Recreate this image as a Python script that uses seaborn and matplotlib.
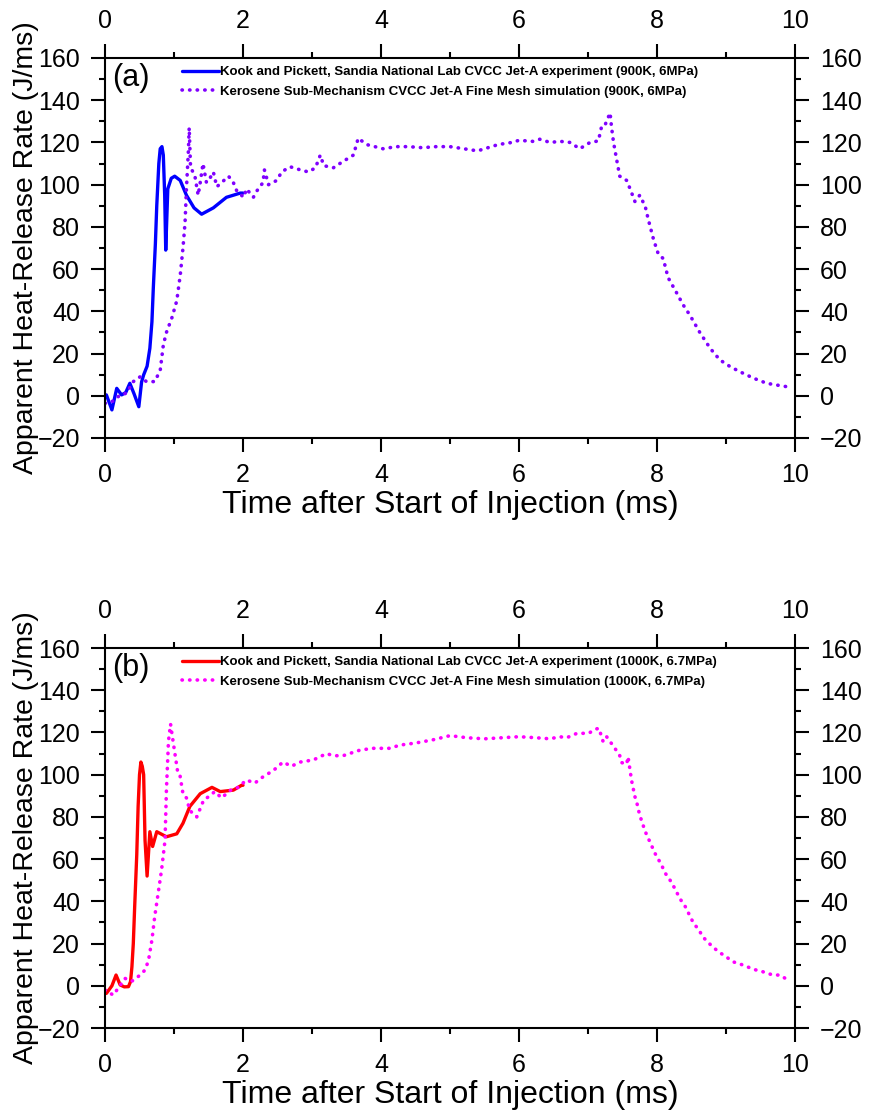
import numpy as np
import seaborn as sns
import matplotlib.pyplot as plt

# panel (a): 900K, 6MPa
exp_a_t = [0.0, 0.02, 0.1, 0.17, 0.24, 0.3, 0.36, 0.42, 0.49, 0.53, 0.56, 0.61, 0.65, 0.68, 0.70, 0.73,
           0.75, 0.78, 0.80, 0.825, 0.845, 0.865, 0.88, 0.91, 0.96, 1.01, 1.09, 1.18, 1.29, 1.40,
           1.57, 1.76, 1.96, 2.0]
exp_a_hrr = [0.0, 0.4, -6.7, 3.5, 0.4, 1.5, 5.9, 1.0, -5.2, 6.5, 9.9, 14, 22.5, 35, 51, 72,
             90, 110, 117, 118, 114, 95, 69, 98, 103, 104, 102, 95, 89, 86,
             89, 94, 96, 96]

sim_a_t = [0.0, 0.12, 0.22, 0.31, 0.41, 0.51, 0.60, 0.72, 0.80, 0.845, 0.89, 0.97, 1.04, 1.09, 1.13,
           1.16, 1.18, 1.21, 1.22, 1.24, 1.30, 1.35, 1.38, 1.42, 1.47, 1.52, 1.57, 1.62, 1.69, 1.79,
           1.86, 1.91, 2.01, 2.05, 2.15, 2.20, 2.29, 2.31, 2.37, 2.49, 2.56, 2.68, 2.83, 2.95, 3.05,
           3.12, 3.17, 3.31, 3.45, 3.60, 3.67, 3.79, 4.03, 4.22, 4.4, 4.6, 4.8, 5.0, 5.2, 5.4,
           5.5, 5.7, 5.9, 6.0, 6.2, 6.3, 6.45, 6.6, 6.74, 6.88, 7.03, 7.15, 7.20, 7.25, 7.32,
           7.34, 7.37, 7.42, 7.46, 7.56, 7.61, 7.68, 7.75, 7.83, 7.87, 7.95, 8.02, 8.09, 8.16, 8.28,
           8.38, 8.48, 8.62, 8.77, 8.91, 9.06, 9.20, 9.40, 9.59, 9.73, 9.88, 9.90]
sim_a_hrr = [-3.6, -2.5, 0.4, 1.2, 6.7, 9.0, 6.7, 6.7, 12, 24, 30, 37, 45, 57, 70,
             82, 98, 117, 127, 108, 104.6, 95, 101, 110, 101, 103, 106, 99, 101, 104,
             101, 97, 94, 98, 94, 97, 101, 107, 100, 102, 106, 108.5, 107, 106, 108,
             114, 109, 108, 111, 114, 122, 119, 117, 118, 118, 117.5, 118, 118, 117, 116,
             117, 119, 120, 121, 120.5, 121.5, 120, 120.5, 120, 117, 120, 120.7, 128, 128.5, 134,
             127.5, 120, 111, 104, 102, 98, 92, 95, 89.6, 84, 74, 67, 65, 56, 49,
             43, 38, 30, 22.5, 17, 13.8, 11.4, 8.3, 5.9, 5.1, 4.3, 5.0]

# panel (b): 1000K, 6.7MPa
exp_b_t = [0.0, 0.02, 0.1, 0.16, 0.22, 0.28, 0.34, 0.37, 0.39, 0.41, 0.43, 0.46, 0.48, 0.50, 0.52,
           0.54, 0.56, 0.58, 0.61, 0.65, 0.69, 0.75, 0.89, 1.04, 1.13, 1.23, 1.38, 1.55, 1.67,
           1.86, 1.98, 2.0]
exp_b_hrr = [-2.0, -3.6, 0.0, 5.1, 0.4, -0.5, -0.4, 2, 9, 20, 37.5, 62, 85, 100, 106,
             104, 100, 69, 52, 73, 66, 73, 70.6, 72, 77, 85, 91, 94, 92,
             92.7, 95, 95]

sim_b_t = [0.0, 0.12, 0.29, 0.39, 0.51, 0.58, 0.63, 0.68, 0.72, 0.77, 0.82, 0.87, 0.89, 0.92, 0.95,
           0.99, 1.05, 1.08, 1.13, 1.18, 1.23, 1.33, 1.43, 1.52, 1.59, 1.69, 1.81, 1.93, 2.05, 2.17,
           2.29, 2.44, 2.58, 2.70, 2.83, 3.02, 3.21, 3.31, 3.45, 3.70, 3.89, 4.13, 4.27, 4.5, 4.75,
           5.0, 5.25, 5.5, 5.75, 6.0, 6.25, 6.45, 6.59, 6.69, 6.84, 7.01, 7.10, 7.16, 7.19, 7.22,
           7.27, 7.39, 7.46, 7.49, 7.56, 7.58, 7.61, 7.63, 7.66, 7.68, 7.71, 7.73, 7.78, 7.85, 7.90,
           7.97, 8.07, 8.11, 8.19, 8.26, 8.33, 8.41, 8.53, 8.61, 8.66, 8.78, 8.86, 8.93, 9.0, 9.10,
           9.25, 9.40, 9.53, 9.68, 9.78, 9.86]
sim_b_hrr = [-2.0, -4.4, 3.5, 2.2, 5.1, 7.5, 12, 21.7, 32.7, 43.8, 55, 69, 92.7, 116, 124,
             115, 102, 101, 91, 89, 83, 80, 88, 90, 92, 89, 92.5, 94, 97.5, 96,
             99, 102, 106, 104, 106, 107, 110, 109, 109, 111.7, 112.5, 112.5, 114, 115, 116.5,
             118.5, 117.5, 117, 117.5, 118, 117.5, 117, 118, 117.5, 119.6, 119.6, 121.5, 122, 118.6, 115.6,
             118, 112.5, 109, 105.7, 105, 108.5, 102, 97.5, 92.7, 89.6, 86.4, 83.3, 77.7, 71.4, 68,
             62.8, 57, 53.8, 50, 46, 41.4, 37.5, 29.6, 26.4, 23.3, 19.3, 17, 15.3, 13.8, 11.4,
             9.8, 7.8, 6.7, 5.1, 5.1, 3.5]

panels = [
    ("(a)", exp_a_t, exp_a_hrr, sim_a_t, sim_a_hrr, "#0000ff", "#8000ff",
     "Kook and Pickett, Sandia National Lab CVCC Jet-A experiment (900K, 6MPa)",
     "Kerosene Sub-Mechanism CVCC Jet-A Fine Mesh simulation (900K, 6MPa)"),
    ("(b)", exp_b_t, exp_b_hrr, sim_b_t, sim_b_hrr, "#ff0000", "#ff00ff",
     "Kook and Pickett, Sandia National Lab CVCC Jet-A experiment (1000K, 6.7MPa)",
     "Kerosene Sub-Mechanism CVCC Jet-A Fine Mesh simulation (1000K, 6.7MPa)"),
]

sns.set_style("ticks")
plt.rcParams['font.family'] = ['Liberation Sans', 'DejaVu Sans']
plt.rcParams.update({'text.color': 'black', 'axes.labelcolor': 'black',
                     'xtick.color': 'black', 'ytick.color': 'black'})

fig = plt.figure(figsize=(8.7, 11.15), dpi=100)
axes = [fig.add_axes([0.1207, 0.6072, 0.7931, 0.3408]),
        fig.add_axes([0.1207, 0.0780, 0.7931, 0.3408])]

for ax, (tag, et, ey, st, sy, c1, c2, lab1, lab2) in zip(axes, panels):
    sns.lineplot(x=et, y=ey, ax=ax, color=c1, linewidth=2.4, sort=False,
                 estimator=None, label=lab1)
    sns.lineplot(x=st, y=sy, ax=ax, color=c2, linewidth=2.6, sort=False,
                 estimator=None, label=lab2, linestyle=(0, (0.1, 2.0)),
                 dash_capstyle='round')
    ax.set_xlim(0, 10)
    ax.set_ylim(-20, 160)
    ax.set_xticks(np.arange(0, 11, 2))
    ax.set_xticks(np.arange(0, 11, 1), minor=True)
    ax.set_yticks(np.arange(-20, 161, 20))
    ax.set_yticks(np.arange(-20, 161, 10), minor=True)
    ax.tick_params(which='both', top=True, right=True, labeltop=True, labelright=True,
                   direction='out', width=1.5, labelsize=18, pad=8)
    ax.tick_params(which='major', length=10)
    ax.tick_params(which='minor', length=4.5)
    for s in ax.spines.values():
        s.set_linewidth(1.5)
        s.set_color('black')
    ax.set_xlabel("Time after Start of Injection (ms)", fontsize=23, labelpad=2)
    ax.set_ylabel("Apparent Heat-Release Rate (J/ms)", fontsize=20.5)
    ax.yaxis.set_label_coords(-0.095, 0.5)
    ax.text(0.011, 0.948, tag, transform=ax.transAxes, fontsize=22, va='center', ha='left')
    leg = ax.legend(loc='upper left', bbox_to_anchor=(0.1, 1.0), frameon=False,
                    prop={'weight': 'bold', 'size': 9.5}, handlelength=2.8,
                    handletextpad=0.1, labelspacing=0.55, borderaxespad=0.2)

fig.savefig("out.png", dpi=100)
